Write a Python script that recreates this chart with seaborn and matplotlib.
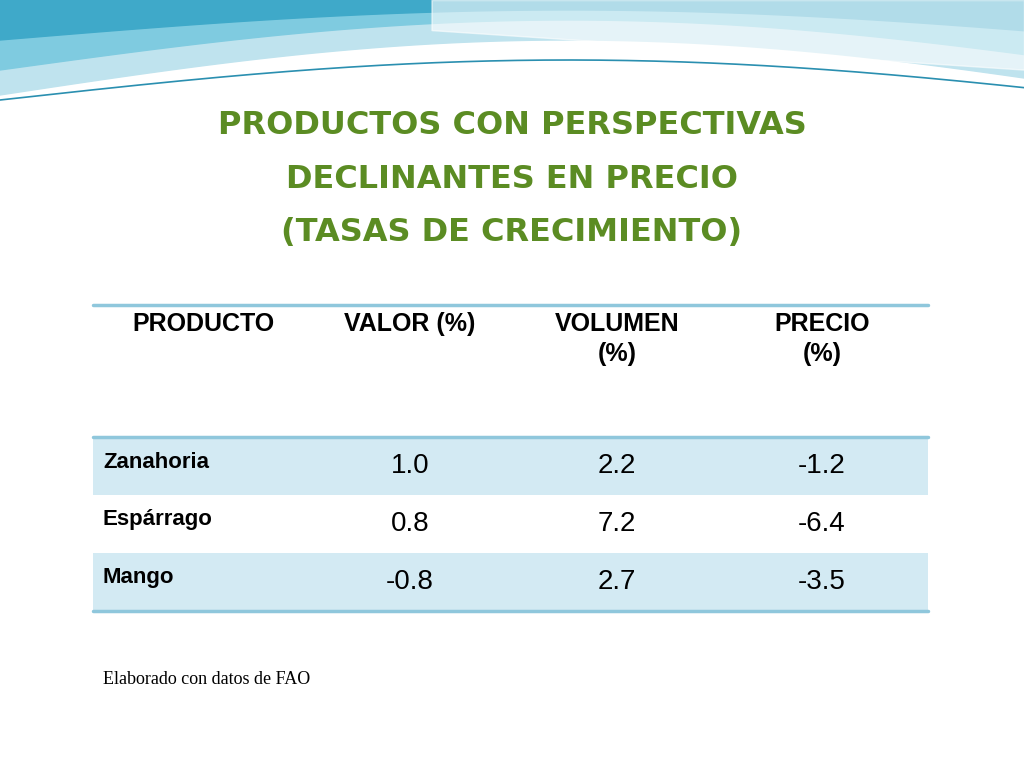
import numpy as np
import matplotlib
matplotlib.use("Agg")
import matplotlib.pyplot as plt
import seaborn as sns
from matplotlib.colors import ListedColormap

title_lines = ["PRODUCTOS CON PERSPECTIVAS", "DECLINANTES EN PRECIO", "(TASAS DE CRECIMIENTO)"]
headers = ["PRODUCTO", "VALOR (%)", "VOLUMEN\n(%)", "PRECIO\n(%)"]
productos = ["Zanahoria", "Espárrago", "Mango"]
valor = ["1.0", "0.8", "-0.8"]
volumen = ["2.2", "7.2", "2.7"]
precio = ["-1.2", "-6.4", "-3.5"]
footer = "Elaborado con datos de FAO"

sns.set_theme(style="white")
narrow = ["Liberation Sans Narrow", "Liberation Sans", "DejaVu Sans"]

fig = plt.figure(figsize=(10.24, 7.68), dpi=100)

# table row backgrounds via seaborn heatmap (drawn first, underneath)
hax = fig.add_axes([93 / 1024, (768 - 611) / 768, 835 / 1024, 174 / 768])
sns.heatmap(np.array([[1], [0], [1]]), ax=hax, cmap=ListedColormap(["white", "#d3eaf3"]),
            cbar=False, xticklabels=False, yticklabels=False)
hax.axis("off")

bg = fig.add_axes([0, 0, 1, 1])
bg.patch.set_alpha(0)
bg.set_xlim(0, 1024); bg.set_ylim(768, 0); bg.axis("off")

# decorative waves at top
x = np.linspace(0, 1024, 300)
s = np.sin(x / 1024 * np.pi * 0.9)
bg.fill_between(x, 0, 95 - 55 * s, color="#bfe3ee", zorder=0)
bg.fill_between(x, 0, 70 - 50 * s, color="#7fcbe0", zorder=0)
bg.fill_between(x, 0, 40 - 30 * s, color="#3fa9c9", zorder=0)
bg.plot(x, 100 - 40 * s, color="#2a8fb0", lw=1.2, zorder=1)
m = x > 430
bg.fill_between(x[m], 0, 30 + 40 * ((x[m] - 430) / 600), color="white", alpha=0.6, zorder=1)

# title
for i, t in enumerate(title_lines):
    bg.text(512, 125 + i * 54, t, ha="center", va="center", fontsize=23,
            fontweight="bold", color="#5b8c23", family="DejaVu Sans")

bg.plot([93, 928], [305, 305], color="#8fc7dc", lw=2.5)
bg.plot([93, 928], [437, 437], color="#8fc7dc", lw=2.5)
bg.plot([93, 928], [611, 611], color="#8fc7dc", lw=2.5)

colx = [203, 410, 617, 822]
for cx, h in zip(colx, headers):
    bg.text(cx, 312, h, ha="center", va="top", fontsize=18, fontweight="bold",
            family=narrow, linespacing=1.3, color="black")

for r in range(3):
    cy = 466 + r * 58
    bg.text(103, cy - 4, productos[r], ha="left", va="center", fontsize=16,
            fontweight="bold", family=narrow, color="black")
    for cx, v in zip(colx[1:], [valor[r], volumen[r], precio[r]]):
        bg.text(cx, cy, v, ha="center", va="center", fontsize=20, family=narrow, color="black")

bg.text(103, 680, footer, ha="left", va="center", fontsize=13, family="Liberation Serif", color="black")

fig.savefig("out.png", dpi=100)
